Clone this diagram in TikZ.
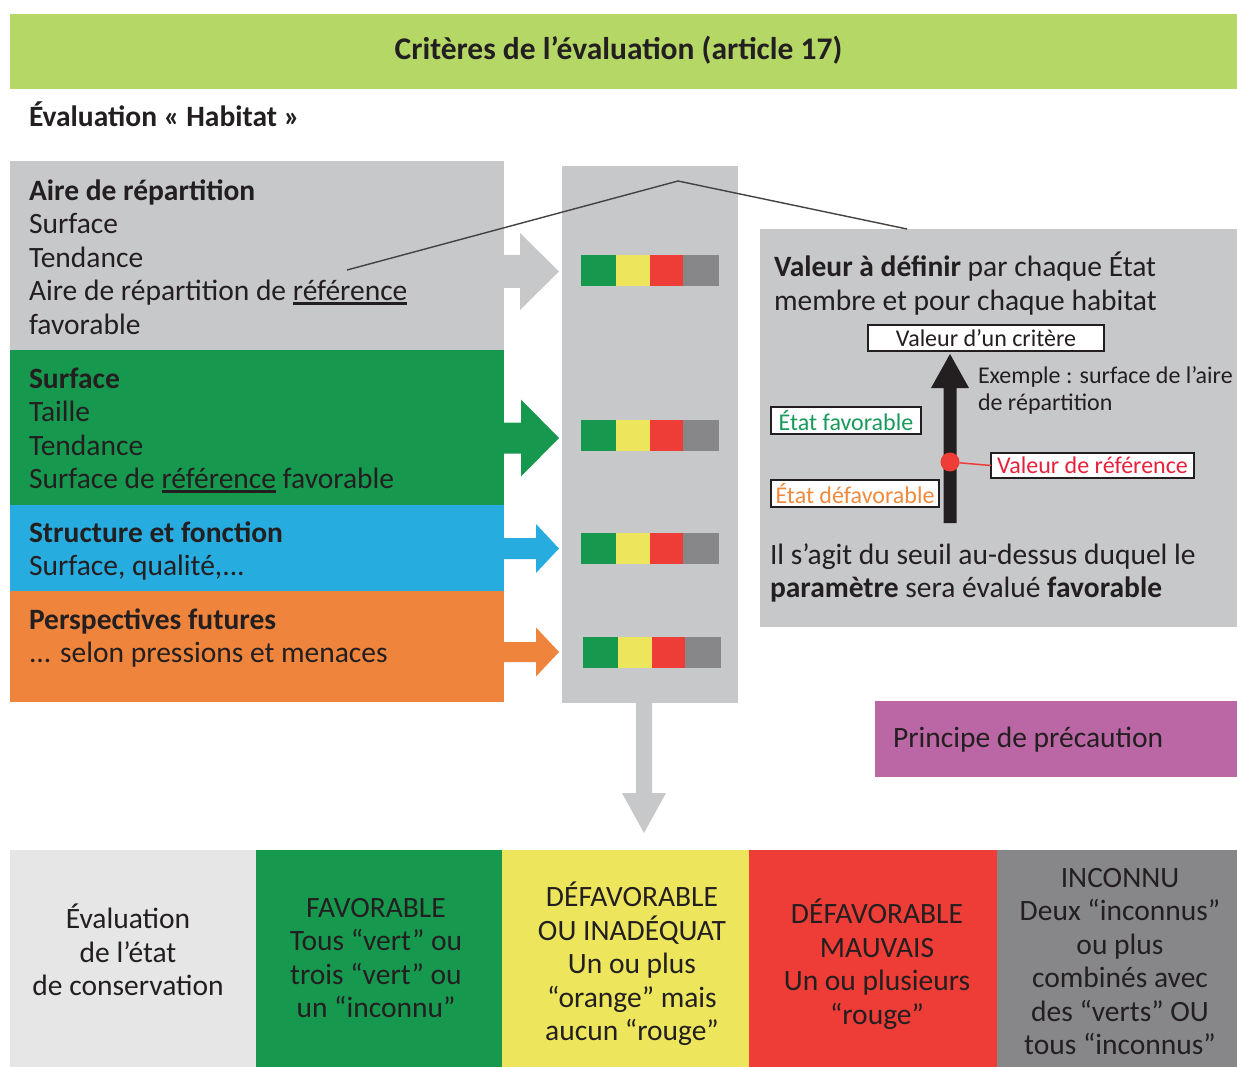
\documentclass[tikz,border=0pt]{standalone}
\usepackage{fontspec}
\setmainfont{Carlito}
\usetikzlibrary{arrows.meta}
\definecolor{hdrgreen}{HTML}{B5D766}
\definecolor{lgray}{HTML}{C7C8CA}
\definecolor{vgray}{HTML}{E6E6E7}
\definecolor{cgreen}{HTML}{17984F}
\definecolor{cblue}{HTML}{27ACDF}
\definecolor{corange}{HTML}{EF843C}
\definecolor{cyellow}{HTML}{EDE65D}
\definecolor{cred}{HTML}{EE3D36}
\definecolor{cdgray}{HTML}{878789}
\definecolor{cpurple}{HTML}{BB67A5}
\definecolor{txt}{HTML}{231F20}
\definecolor{tgreen}{HTML}{1A9A5A}
\definecolor{torange}{HTML}{F08A3C}
\definecolor{tred}{HTML}{E8213B}
\newcommand\fbig{\fontsize{29.5}{33.5}\selectfont}
\newcommand\fsmall{\fontsize{24}{27}\selectfont}
\newcommand\tstrut{\rule{0pt}{23.45pt}}
\newcommand\sstrut{\rule{0pt}{18.9pt}}
\newcommand\myul[1]{\vtop{\hbox{#1}\kern1.2pt\hrule height 2.6pt}}
% block arrow pointing right: color, x0, xbase, xtip, ycenter, half shaft, half head
\newcommand\rblockarrow[7]{\fill[#1] ({#2},{#5-#6}) -- ({#3},{#5-#6}) -- ({#3},{#5-#7}) -- ({#4},{#5}) -- ({#3},{#5+#7}) -- ({#3},{#5+#6}) -- ({#2},{#5+#6}) -- cycle;}
% block arrow vertical: color, xcenter, y0, ybase, ytip, half shaft, half head
\newcommand\vblockarrow[7]{\fill[#1] ({#2-#6},{#3}) -- ({#2-#6},{#4}) -- ({#2-#7},{#4}) -- ({#2},{#5}) -- ({#2+#7},{#4}) -- ({#2+#6},{#4}) -- ({#2+#6},{#3}) -- cycle;}
% colour bar: x, ytop
\newcommand\critbar[2]{%
  \fill[cgreen] ({#1},{#2}) rectangle ({#1+35},{#2+31});
  \fill[cyellow] ({#1+35},{#2}) rectangle ({#1+69},{#2+31});
  \fill[cred] ({#1+69},{#2}) rectangle ({#1+102},{#2+31});
  \fill[cdgray] ({#1+102},{#2}) rectangle ({#1+138},{#2+31});}
\begin{document}
\begin{tikzpicture}[x=1pt,y=-1pt,
  every node/.style={inner sep=0pt,outer sep=0pt,text=txt},
  panel/.style={anchor=north west},
  bigtxt/.style={font=\fbig, align=left, anchor=north west},
  coltxt/.style={font=\fbig, align=center, anchor=north},
  lbl/.style={draw=txt, line width=1.8pt, fill=white, font=\fsmall},
  callout/.style={draw=txt!85, line width=1.4pt},
]
\useasboundingbox (0,0) rectangle (1237,1067);
\fill[white] (0,0) rectangle (1237,1067);

% header
\node[panel, fill=hdrgreen, minimum width=1227pt, minimum height=75pt] (hdr) at (10,14) {};
\node[font=\fontsize{31.5}{36}\selectfont\bfseries] (title) at (618.5,50) {Critères de l’évaluation (article 17)};
\node[anchor=base west, font=\fontsize{29.5}{33}\selectfont\bfseries] (sub) at (29,127) {Évaluation « Habitat »};

% left panels
\node[panel, fill=lgray, minimum width=494pt, minimum height=189pt] (aire) at (10,161) {};
\node[panel, fill=cgreen, minimum width=494pt, minimum height=155pt] (surf) at (10,350) {};
\node[panel, fill=cblue, minimum width=494pt, minimum height=86pt] (struct) at (10,505) {};
\node[panel, fill=corange, minimum width=494pt, minimum height=111pt] (persp) at (10,591) {};

\node[bigtxt] (aireT) at (29,177) {\tstrut\textbf{Aire de répartition}\\Surface\\Tendance\\Aire de répartition de \myul{référence}\\favorable};
\node[bigtxt] (surfT) at (29,365) {\tstrut\textbf{Surface}\\Taille\\Tendance\\Surface de \myul{référence} favorable};
\node[bigtxt] (structT) at (29,519) {\tstrut\textbf{Structure et fonction}\\Surface, qualité,...};
\node[bigtxt] (perspT) at (29,606) {\tstrut\textbf{Perspectives futures}\\... selon pressions et menaces};

% middle column
\node[panel, fill=lgray, minimum width=176pt, minimum height=537pt] (col) at (562,166) {};

% block arrows
\rblockarrow{lgray}{504}{520}{559}{271.5}{16.5}{38.5}
\rblockarrow{cgreen}{504}{521}{559}{438}{15.5}{38.5}
\rblockarrow{cblue}{504}{536}{559}{548.5}{10.5}{24.5}
\rblockarrow{corange}{504}{536}{559}{652}{10}{24.5}

% colour bars
\critbar{581}{255}
\critbar{581}{420}
\critbar{581}{533}
\critbar{583}{637}

% down arrow
\vblockarrow{lgray}{644}{703}{793}{833}{8}{22}

% right explanation panel
\node[panel, fill=lgray, minimum width=477pt, minimum height=398pt] (expl) at (760,229) {};
\coordinate (c1) at (347,270);
\coordinate (c2) at (678,181);
\coordinate (c3) at (907,229);
\draw[callout] (c1) -- (c2) -- (c3);

\node[bigtxt] (valT) at (774,252) {\tstrut\textbf{Valeur à définir} par chaque État\\membre et pour chaque habitat};
\node[lbl, minimum width=236pt, minimum height=26pt] (crit) at (986,338) {Valeur d’un critère};
\vblockarrow{txt}{950}{523}{388}{354}{6.5}{19}
\node[anchor=north west, font=\fsmall, align=left] (ex) at (978,365) {\sstrut Exemple : surface de l’aire\\de répartition};
\node[lbl, text=tgreen, minimum width=150pt, minimum height=27pt] (fav) at (846,420.5) {État favorable};
\node[lbl, text=torange, minimum width=168pt, minimum height=27pt] (defav) at (855,493.5) {État défavorable};
\node[lbl, text=tred, minimum width=203pt, minimum height=25pt] (vref) at (1092.5,465.5) {Valeur de référence};
\node[circle, fill=cred, minimum size=19pt] (dot) at (950,462) {};
\draw[cred, line width=1.5pt] (dot) -- (vref.west);
\node[bigtxt] (seuil) at (770,541) {\tstrut Il s’agit du seuil au-dessus duquel le\\\textbf{paramètre} sera évalué \textbf{favorable}};

% precaution
\node[panel, fill=cpurple, minimum width=362pt, minimum height=76pt] (prec) at (875,701) {};
\node[anchor=base west, font=\fbig] (precT) at (893,747) {Principe de précaution};

% bottom row
\node[panel, fill=vgray, minimum width=246pt, minimum height=217pt] (b1) at (10,850) {};
\node[panel, fill=cgreen, minimum width=246pt, minimum height=217pt] (b2) at (256,850) {};
\node[panel, fill=cyellow, minimum width=247pt, minimum height=217pt] (b3) at (502,850) {};
\node[panel, fill=cred, minimum width=248pt, minimum height=217pt] (b4) at (749,850) {};
\node[panel, fill=cdgray, minimum width=240pt, minimum height=217pt] (b5) at (997,850) {};

\node[coltxt] (b1T) at (128,904) {\tstrut Évaluation\\de l’état\\de conservation};
\node[coltxt] (b2T) at (376,894) {\tstrut FAVORABLE\\Tous “vert” ou\\trois “vert” ou\\un “inconnu”};
\node[coltxt] (b3T) at (632,882) {\tstrut DÉFAVORABLE\\OU INADÉQUAT\\Un ou plus\\“orange” mais\\aucun “rouge”};
\node[coltxt] (b4T) at (877,899) {\tstrut DÉFAVORABLE\\MAUVAIS\\Un ou plusieurs\\“rouge”};
\node[coltxt] (b5T) at (1120,864) {\tstrut INCONNU\\Deux “inconnus”\\ou plus\\combinés avec\\des “verts” OU\\tous “inconnus”};
\end{tikzpicture}
\end{document}
